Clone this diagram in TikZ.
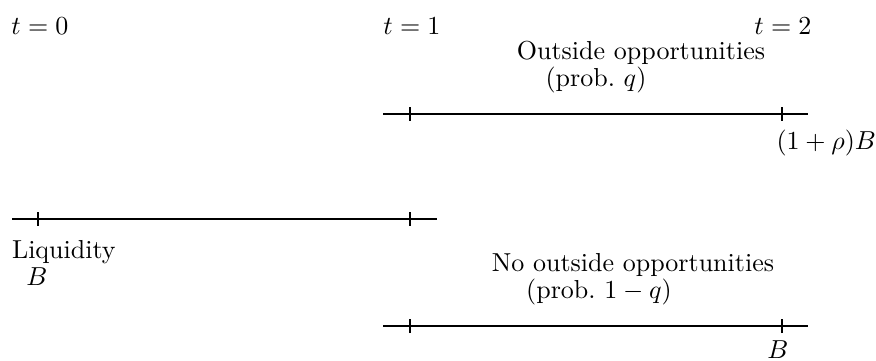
\documentclass[tikz,border=0pt]{standalone}
\begin{document}
\begin{tikzpicture}[x=0.3846pt,y=-0.3846pt,
  lbl/.style={inner sep=0pt,outer sep=0pt},
  tl/.style={line width=0.45pt},
  tk/.style={line width=0.45pt}]
\useasboundingbox (0,0) rectangle (876,361);
% labels
\node[lbl] (t0) at (40,26) {$t=0$};
\node[lbl] (t1) at (412,26) {$t=1$};
\node[lbl] (t2) at (783,26) {$t=2$};
\node[lbl] (oo) at (641,53) {Outside opportunities};
\node[lbl] (pq) at (596,80) {(prob.\ $q$)};
\node[lbl,anchor=east] (rb) at (876,143) {$(1+\rho)B$};
\node[lbl,anchor=west] (liq) at (12,252) {Liquidity};
\node[lbl] (bl) at (37,277) {$B$};
\node[lbl] (no) at (633,265) {No outside opportunities};
\node[lbl] (pq2) at (599,292) {(prob.\ $1-q$)};
\node[lbl] (bb) at (778,350) {$B$};
% top timeline
\coordinate (a1) at (383,114);
\coordinate (a2) at (808,114);
\coordinate (ta1) at (410,114);
\coordinate (ta2) at (782,114);
\draw[tl] (a1) -- (a2);
\draw[tk] ([yshift=-7*0.3846pt]ta1) -- ([yshift=7*0.3846pt]ta1);
\draw[tk] ([yshift=-7*0.3846pt]ta2) -- ([yshift=7*0.3846pt]ta2);
% middle timeline
\coordinate (b1) at (12,219);
\coordinate (b2) at (437,219);
\coordinate (tb1) at (38,219);
\coordinate (tb2) at (410,219);
\draw[tl] (b1) -- (b2);
\draw[tk] ([yshift=-7*0.3846pt]tb1) -- ([yshift=7*0.3846pt]tb1);
\draw[tk] ([yshift=-7*0.3846pt]tb2) -- ([yshift=7*0.3846pt]tb2);
% bottom timeline
\coordinate (c1) at (383,326);
\coordinate (c2) at (808,326);
\coordinate (tc1) at (410,326);
\coordinate (tc2) at (782,326);
\draw[tl] (c1) -- (c2);
\draw[tk] ([yshift=-7*0.3846pt]tc1) -- ([yshift=7*0.3846pt]tc1);
\draw[tk] ([yshift=-7*0.3846pt]tc2) -- ([yshift=7*0.3846pt]tc2);
\end{tikzpicture}
\end{document}
